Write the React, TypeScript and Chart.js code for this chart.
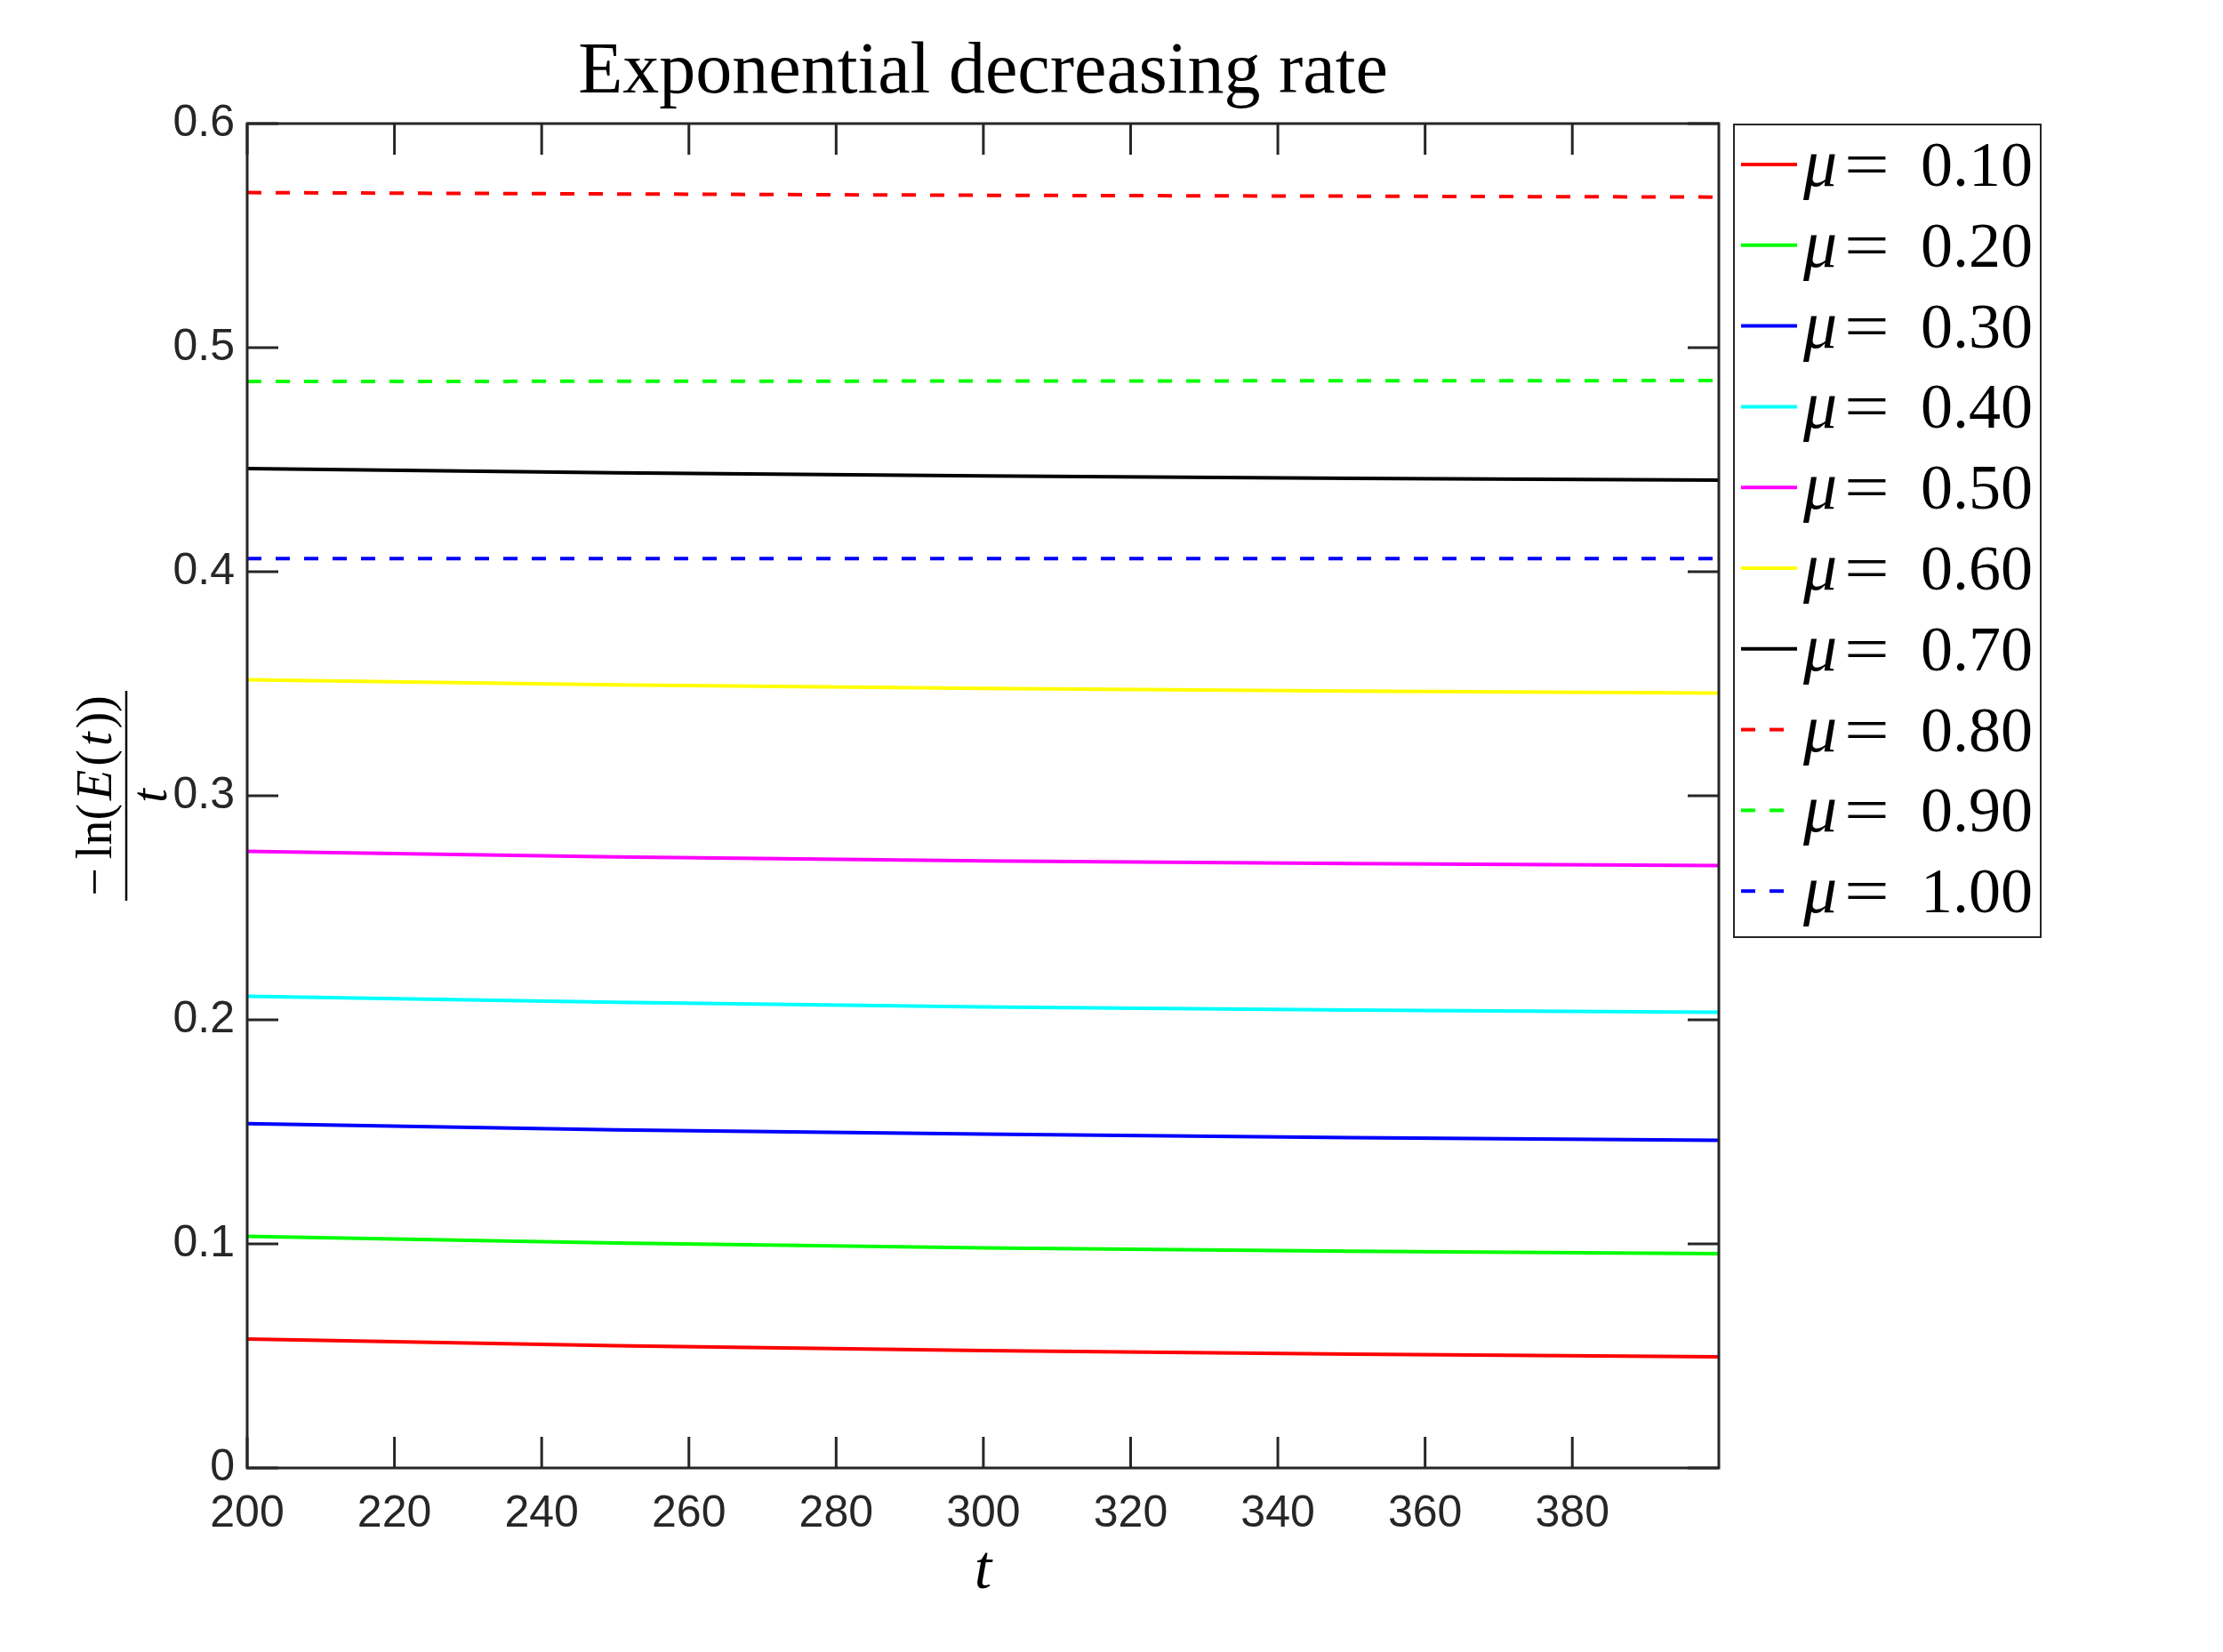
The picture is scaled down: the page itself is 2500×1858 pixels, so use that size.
import React, { useEffect, useRef } from "react";
import { Chart, registerables } from "chart.js";

Chart.register(...registerables);

// ---- data ----
const tValues = [200, 250, 300, 350, 399.9];
const muLabels = ["0.10", "0.20", "0.30", "0.40", "0.50", "0.60", "0.70", "0.80", "0.90", "1.00"];
const mu010 = [0.0575, 0.0546, 0.0524, 0.0508, 0.0496];
const mu020 = [0.1034, 0.1004, 0.0982, 0.0967, 0.0956];
const mu030 = [0.1537, 0.1509, 0.149, 0.1474, 0.1462];
const mu040 = [0.2105, 0.2078, 0.2058, 0.2044, 0.2034];
const mu050 = [0.2752, 0.2727, 0.2709, 0.2697, 0.2688];
const mu060 = [0.3518, 0.3495, 0.3479, 0.3467, 0.3458];
const mu070 = [0.446, 0.4441, 0.4428, 0.4417, 0.4409];
const mu080 = [0.5692, 0.5686, 0.568, 0.5676, 0.5672];
const mu090 = [0.4849, 0.485, 0.4851, 0.4852, 0.4853];
const mu100 = [0.4059, 0.4059, 0.4059, 0.4059, 0.4059];
const seriesValues = [mu010, mu020, mu030, mu040, mu050, mu060, mu070, mu080, mu090, mu100];
const seriesColors = ["#ff0000", "#00ff00", "#0000ff", "#00ffff", "#ff00ff", "#ffff00", "#000000", "#ff0000", "#00ff00", "#0000ff"];
const seriesDashed = [false, false, false, false, false, false, false, true, true, true];
const xRange = [200, 399.9];
const xTickValues = [200, 220, 240, 260, 280, 300, 320, 340, 360, 380];
const yRange = [0, 0.6];
const yTickValues = [0, 0.1, 0.2, 0.3, 0.4, 0.5, 0.6];
const titleText = "Exponential decreasing rate";

const AXIS_COLOR = "#262626";
const TICK_FONT = "Liberation Sans, Arial, sans-serif";
const SERIF = "Liberation Serif, Times New Roman, serif";
const DASH = [16, 16];

const decorPlugin = {
  id: "decor",
  afterDraw(chart: any) {
    const ctx = chart.ctx as CanvasRenderingContext2D;
    const { left, right, top, bottom } = chart.chartArea;
    const xs = chart.scales.x;
    const ys = chart.scales.y;
    ctx.save();
    // box
    ctx.strokeStyle = AXIS_COLOR;
    ctx.lineWidth = 3;
    ctx.setLineDash([]);
    ctx.strokeRect(left, top, right - left, bottom - top);
    // inside ticks
    const tl = 35;
    ctx.beginPath();
    xs.ticks.forEach((t: any) => {
      const px = xs.getPixelForValue(t.value);
      ctx.moveTo(px, bottom);
      ctx.lineTo(px, bottom - tl);
      ctx.moveTo(px, top);
      ctx.lineTo(px, top + tl);
    });
    ys.ticks.forEach((t: any) => {
      const py = ys.getPixelForValue(t.value);
      ctx.moveTo(left, py);
      ctx.lineTo(left + tl, py);
      ctx.moveTo(right, py);
      ctx.lineTo(right - tl, py);
    });
    ctx.stroke();

    // title
    ctx.fillStyle = "#000";
    ctx.textAlign = "center";
    ctx.textBaseline = "alphabetic";
    ctx.font = `82px ${SERIF}`;
    ctx.fillText(titleText, (left + right) / 2, 104);

    // x label
    ctx.font = `italic 70px ${SERIF}`;
    ctx.fillText("t", (left + right) / 2, 1786);

    // y label fraction (rotated)
    const cy = (top + bottom) / 2;
    ctx.save();
    ctx.translate(142, cy);
    ctx.rotate(-Math.PI / 2);
    const fs = 56;
    const parts: [string, boolean][] = [
      ["\u2212", false],
      ["ln(", false],
      ["E", true],
      ["(", false],
      ["t", true],
      ["))", false],
    ];
    const gap = 4;
    let total = 0;
    const widths = parts.map(([s, it]) => {
      ctx.font = `${it ? "italic " : ""}${fs}px ${SERIF}`;
      const w = ctx.measureText(s).width;
      total += w;
      return w;
    });
    total += gap * (parts.length - 1) + 6;
    let x = -total / 2;
    ctx.textAlign = "left";
    parts.forEach(([s, it], i) => {
      ctx.font = `${it ? "italic " : ""}${fs}px ${SERIF}`;
      ctx.fillText(s, x, -17);
      x += widths[i] + gap + (i === 0 ? 6 : 0);
    });
    ctx.strokeStyle = "#000";
    ctx.lineWidth = 2.5;
    ctx.beginPath();
    ctx.moveTo(-118, 0);
    ctx.lineTo(118, 0);
    ctx.stroke();
    ctx.textAlign = "center";
    ctx.font = `italic ${fs}px ${SERIF}`;
    ctx.fillText("t", 0, 45);
    ctx.restore();

    // legend
    const lx0 = 1950, ly0 = 140, lx1 = 2295, ly1 = 1054;
    ctx.fillStyle = "#fff";
    ctx.fillRect(lx0, ly0, lx1 - lx0, ly1 - ly0);
    ctx.strokeStyle = AXIS_COLOR;
    ctx.lineWidth = 2;
    ctx.strokeRect(lx0, ly0, lx1 - lx0, ly1 - ly0);
    chart.data.datasets.forEach((ds: any, i: number) => {
      const rowY = 185 + i * 90.8;
      ctx.save();
      ctx.strokeStyle = ds.borderColor;
      ctx.lineWidth = 4;
      ctx.setLineDash(ds.borderDash || []);
      ctx.beginPath();
      ctx.moveTo(1958, rowY);
      ctx.lineTo(2021, rowY);
      ctx.stroke();
      ctx.restore();
      ctx.fillStyle = "#000";
      ctx.textAlign = "left";
      ctx.textBaseline = "alphabetic";
      ctx.font = `italic 76px ${SERIF}`;
      ctx.fillText("\u03bc", 2028, rowY + 24);
      ctx.save();
      ctx.translate(2074, rowY + 24);
      ctx.scale(1.25, 1);
      ctx.font = `72px ${SERIF}`;
      ctx.fillText("=", 0, 0);
      ctx.restore();
      ctx.font = `72px ${SERIF}`;
      ctx.fillText(muLabels[i], 2160, rowY + 24);
    });
    ctx.restore();
  },
};

export default function App() {
  const ref = useRef<HTMLCanvasElement | null>(null);
  useEffect(() => {
    if (!ref.current) return;
    const datasets = seriesValues.map((vals, i) => ({
      label: `\u03bc= ${muLabels[i]}`,
      data: tValues.map((t, k) => ({ x: t, y: vals[k] })),
      borderColor: seriesColors[i],
      backgroundColor: seriesColors[i],
      borderWidth: 4,
      borderDash: seriesDashed[i] ? DASH : [],
      pointRadius: 0,
      fill: false,
      tension: 0,
    }));
    const chart = new Chart(ref.current, {
      type: "line",
      data: { datasets },
      options: {
        animation: false,
        responsive: false,
        devicePixelRatio: 1,
        layout: { padding: { left: 0, top: 139, right: 2500 - 1933, bottom: 0 } },
        plugins: {
          legend: { display: false },
          title: { display: false },
          tooltip: { enabled: false },
        },
        scales: {
          x: {
            type: "linear",
            min: xRange[0],
            max: xRange[1],
            grid: { display: false, drawTicks: false },
            border: { display: false },
            afterBuildTicks: (s: any) => {
              s.ticks = xTickValues.map((v) => ({ value: v }));
            },
            ticks: {
              color: AXIS_COLOR,
              font: { family: TICK_FONT, size: 50 },
              padding: 22,
              maxRotation: 0,
              autoSkip: false,
              callback: (v: any) => String(Math.round(Number(v))),
            },
            afterFit: (s: any) => {
              s.height = 1858 - 1651;
            },
          },
          y: {
            type: "linear",
            min: yRange[0],
            max: yRange[1],
            grid: { display: false, drawTicks: false },
            border: { display: false },
            afterBuildTicks: (s: any) => {
              s.ticks = yTickValues.map((v) => ({ value: v }));
            },
            ticks: {
              color: AXIS_COLOR,
              font: { family: TICK_FONT, size: 50 },
              padding: 14,
              autoSkip: false,
              callback: (v: any) => String(Number(Number(v).toFixed(1))),
            },
            afterFit: (s: any) => {
              s.width = 278;
            },
          },
        },
      },
      plugins: [decorPlugin],
    });
    return () => chart.destroy();
  }, []);
  return (
    <div style={{ position: "fixed", left: 0, top: 0, width: 2500, height: 1858, background: "#fff" }}>
      <canvas ref={ref} width={2500} height={1858} style={{ display: "block" }} />
    </div>
  );
}
